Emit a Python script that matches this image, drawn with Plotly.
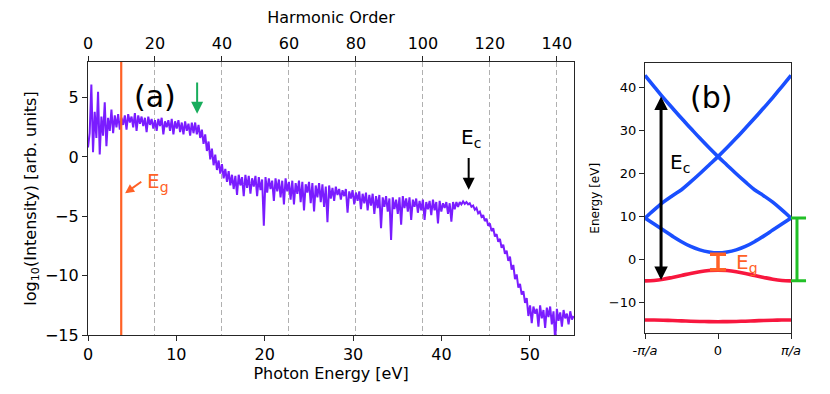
import plotly.graph_objects as go

# ---------------- data ----------------
HARMONIC_EV = 0.379          # photon energy of one harmonic order (eV)
EG_EV = 3.76                 # band gap marker (eV)

# log10 intensity at integer harmonic orders H = 0..145
PEAKS = [
    0.8,
    6.1, 3.8, 5.5, 3.4, 4.6, 3.3, 4.0, 3.5, 3.6, 3.3,
    3.5, 3.6, 3.4, 3.7, 3.5, 3.4, 3.3, 3.4, 3.2, 3.1,
    3.2, 3.3, 3.0, 3.1, 3.2, 3.0, 3.1, 2.9, 3.0, 2.8,
    2.9, 2.9, 2.7, 2.3, 1.9, 1.3, 0.7, 0.2, -0.3, -0.6,
    -1.0, -1.2, -1.5, -1.6, -1.5, -1.7, -1.5, -1.6, -1.8, -1.6,
    -1.7, -1.9, -1.7, -1.8, -2.0, -1.8, -1.9, -2.0, -1.8, -2.1,
    -2.0, -2.2, -2.0, -2.1, -2.3, -2.1, -2.2, -2.4, -2.2, -2.3,
    -2.5, -2.4, -2.6, -2.5, -2.7, -2.8, -2.7, -2.9, -2.8, -3.0,
    -2.9, -3.1, -3.0, -3.2, -3.1, -3.3, -3.2, -3.4, -3.3, -3.5,
    -3.4, -3.6, -3.4, -3.3, -3.5, -3.4, -3.6, -3.5, -3.7, -3.6,
    -3.8, -3.7, -3.6, -3.8, -3.7, -3.9, -3.8, -3.9, -3.8, -3.8,
    -3.8, -3.75, -3.8, -3.9, -4.1, -4.3, -4.6, -4.9, -5.2, -5.6,
    -6.0, -6.5, -6.9, -7.4, -7.9, -8.4, -9.1, -9.9, -10.7, -11.3,
    -11.9, -12.5, -12.6, -12.8, -12.5, -12.9, -12.7, -12.6, -13.0, -12.8,
    -13.1, -12.9, -13.2, -13.0, -13.4,
]
# log10 intensity between harmonics, H = 0.5..144.5
DIPS = [
    2.0, 0.4, 1.6, 0.2, 1.8, 0.9, 2.2, 2.0, 2.5, 2.3,
    2.7, 2.3, 2.9, 2.5, 2.2, 2.8, 2.6, 2.1, 2.7, 2.4,
    2.2, 2.6, 1.9, 2.5, 2.2, 1.9, 2.4, 2.1, 1.9, 2.2,
    1.8, 2.0, 1.9, 1.6, 1.1, 0.5, -0.2, -0.7, -1.1, -1.4,
    -1.8, -2.1, -2.4, -2.7, -3.2, -2.4, -3.3, -2.6, -3.1, -2.5,
    -3.3, -2.8, -5.8, -3.0, -2.7, -3.7, -2.9, -3.4, -4.0, -2.9,
    -3.6, -4.0, -3.1, -3.8, -4.5, -3.0, -3.9, -4.6, -3.4, -3.8,
    -4.2, -5.5, -3.5, -3.7, -3.2, -3.6, -3.3, -4.7, -3.5, -4.0,
    -3.7, -4.4, -3.9, -4.5, -4.1, -4.8, -4.3, -6.0, -4.2, -4.6,
    -7.0, -4.4, -4.8, -5.7, -4.3, -4.6, -5.3, -4.2, -4.7, -4.5,
    -5.3, -4.4, -4.9, -4.5, -5.6, -4.6, -4.3, -4.8, -5.45, -4.4,
    -4.2, -4.0, -3.95, -4.0, -4.2, -4.45, -4.75, -5.05, -5.4, -5.8,
    -6.25, -6.7, -7.15, -7.65, -8.15, -8.75, -9.5, -10.3, -11.0, -11.6,
    -12.3, -13.4, -14.0, -13.2, -14.3, -13.6, -14.4, -13.5, -14.1, -15.5,
    -13.8, -14.3, -13.6, -14.1, -13.7,
]

# band structure, k in units of pi/a
K = [-1, -0.875, -0.75, -0.625, -0.5, -0.375, -0.25, -0.125, 0,
     0.125, 0.25, 0.375, 0.5, 0.625, 0.75, 0.875, 1]
BAND1 = [-14.1, -14.12, -14.16, -14.22, -14.3, -14.38, -14.44, -14.48, -14.5,
         -14.48, -14.44, -14.38, -14.3, -14.22, -14.16, -14.12, -14.1]
BAND2 = [-5.0, -4.9, -4.62, -4.2, -3.75, -3.27, -2.87, -2.6, -2.5,
         -2.6, -2.87, -3.27, -3.75, -4.2, -4.62, -4.9, -5.0]
BAND3 = [9.6, 8.2, 6.8, 5.4, 4.1, 3.0, 2.2, 1.7, 1.5,
         1.7, 2.2, 3.0, 4.1, 5.4, 6.8, 8.2, 9.6]
BAND4 = [9.6, 11.5, 13.3, 14.8, 16.2, 18.0, 19.9, 21.9, 23.9,
         26.0, 28.2, 30.5, 32.8, 35.2, 37.6, 40.2, 42.8]
BAND5 = BAND4[::-1]

X_TICKS_B = [-1, 0, 1]
X_TICKTEXT_B = ["-<i>π/a</i>", "0", "<i>π/a</i>"]

# ---------------- build spectrum ----------------
spec_h, spec_v = [], []
for i, p in enumerate(PEAKS):
    spec_h.append(i)
    spec_v.append(p)
    if i < len(DIPS):
        spec_h.append(i + 0.5)
        spec_v.append(DIPS[i])
spec_e = [h * HARMONIC_EV for h in spec_h]

PURPLE = "#7a1cff"
ORANGE = "#ff6126"
GREEN_A = "#18ad5c"
GREEN_B = "#22c027"
BLUE = "#1a4fff"
RED = "#f8173e"
FONT = "DejaVu Sans"
AX = "#262626"

fig = go.Figure()
fig.add_trace(go.Scatter(x=spec_e, y=spec_v, mode="lines",
                         line=dict(color=PURPLE, width=2), xaxis="x", yaxis="y",
                         showlegend=False))
fig.add_trace(go.Scatter(x=[EG_EV, EG_EV], y=[-15, 8], mode="lines",
                         line=dict(color=ORANGE, width=2.2), xaxis="x", yaxis="y",
                         showlegend=False))

for band, col in [(BAND1, RED), (BAND2, RED), (BAND3, BLUE), (BAND4, BLUE), (BAND5, BLUE)]:
    fig.add_trace(go.Scatter(x=K, y=band, mode="lines", line=dict(color=col, width=3.6, shape="spline"),
                             xaxis="x2", yaxis="y2", showlegend=False))

# invisible trace so xaxis3 is rendered
fig.add_trace(go.Scatter(x=[0], y=[0], xaxis="x3", yaxis="y", mode="markers",
                         marker=dict(opacity=0), showlegend=False, hoverinfo="skip"))

W, H = 830, 394
OFF = 8  # page body margin
def dx(a, b):
    return [(a - OFF) / W, (b - OFF) / W]
def dy(top, bottom):
    return [(H - (bottom - OFF)) / H, (H - (top - OFF)) / H]

dom_a_x = dx(88, 574)
dom_a_y = dy(62, 335)
dom_b_x = dx(645, 791)
dom_b_y = dy(63.3, 333.3)

axis_common = dict(showline=True, linecolor=AX, linewidth=1.3, ticks="outside",
                   ticklen=5, tickwidth=1.2, tickcolor=AX, zeroline=False, showgrid=False,
                   automargin=False)

fig.update_layout(
    width=W, height=H, autosize=False,
    margin=dict(l=0, r=0, t=0, b=0, pad=0),
    paper_bgcolor="white", plot_bgcolor="white",
    font=dict(family=FONT, color="black"),
    xaxis=dict(domain=dom_a_x, anchor="y", range=[0, 55], tickvals=[0, 10, 20, 30, 40, 50],
               tickfont=dict(size=16),
               title=dict(text="Photon Energy [eV]", font=dict(size=16), standoff=4),
               **axis_common),
    xaxis3=dict(overlaying="x", side="top", anchor="y", range=[0, 55 / HARMONIC_EV],
                tickvals=[0, 20, 40, 60, 80, 100, 120, 140], tickfont=dict(size=16),
                title=dict(text="Harmonic Order", font=dict(size=16), standoff=6),
                **{**axis_common, "showgrid": True}, gridcolor="#b0b0b0", griddash="5px,3px",
                gridwidth=1.3),
    yaxis=dict(domain=dom_a_y, anchor="x", range=[-15, 8], tickvals=[-15, -10, -5, 0, 5],
               tickfont=dict(size=16), mirror=True,
               title=dict(text="log<sub>10</sub>(Intensity) [arb. units]", font=dict(size=16),
                          standoff=4),
               **axis_common),
    xaxis2=dict(domain=dom_b_x, anchor="y2", range=[-1, 1], tickvals=X_TICKS_B,
                ticktext=X_TICKTEXT_B, tickfont=dict(size=13), mirror=True, **axis_common),
    yaxis2=dict(domain=dom_b_y, anchor="x2", range=[-17.2, 45.6],
                tickvals=[-10, 0, 10, 20, 30, 40], tickfont=dict(size=13), mirror=True,
                title=dict(text="Energy [eV]", font=dict(size=12), standoff=6),
                **axis_common),
)

ann = []
def txt(x, y, t, xr, yr, size, color="black"):
    ann.append(dict(x=x, y=y, xref=xr, yref=yr, text=t, showarrow=False,
                    font=dict(size=size, color=color, family=FONT)))

def arrow(x, y, ax, ay, xr, yr, color, width, size, both=False):
    ann.append(dict(x=x, y=y, ax=ax, ay=ay, xref=xr, yref=yr, axref=xr, ayref=yr,
                    text="", showarrow=True, arrowhead=2, startarrowhead=2,
                    arrowsize=size, startarrowsize=size, arrowwidth=width,
                    arrowcolor=color, arrowside="end+start" if both else "end",
                    standoff=0, startstandoff=0))

txt(7.6, 5.1, "(a)", "x", "y", 30)
txt(7.9, -2.1, "E<sub>g</sub>", "x", "y", 20, ORANGE)
arrow(4.2, -3.05, 6.2, -2.0, "x", "y", ORANGE, 2, 0.9)
arrow(12.35, 3.65, 12.35, 6.4, "x", "y", GREEN_A, 2, 1.2)
arrow(43.08, -2.77, 43.08, 0.03, "x", "y", "black", 2, 1.2)
txt(43.3, 1.6, "E<sub>c</sub>", "x", "y", 20)

txt(-0.1, 37.6, "(b)", "x2", "y2", 30)
txt(-0.52, 22.3, "E<sub>c</sub>", "x2", "y2", 20)
txt(0.4, -0.9, "E<sub>g</sub>", "x2", "y2", 20, ORANGE)
arrow(-0.78, -4.8, -0.78, 38.2, "x2", "y2", "black", 3, 0.9, both=True)
fig.update_layout(annotations=ann)

shapes = []
# orange gap bar
shapes.append(dict(type="line", xref="x2", yref="y2", x0=0, x1=0, y0=1.2, y1=-2.4,
                   line=dict(color=ORANGE, width=3.5)))
for yy in (1.2, -2.4):
    shapes.append(dict(type="line", xref="x2", yref="y2", x0=-0.11, x1=0.11, y0=yy, y1=yy,
                       line=dict(color=ORANGE, width=3.5)))
# green bar outside panel (b)
shapes.append(dict(type="line", xref="x2 domain", yref="y2", x0=1.041, x1=1.041, y0=9.6, y1=-5.0,
                   line=dict(color=GREEN_B, width=3)))
for yy in (9.6, -5.0):
    shapes.append(dict(type="line", xref="x2 domain", yref="y2", x0=0.999, x1=1.103, y0=yy, y1=yy,
                       line=dict(color=GREEN_B, width=3)))
fig.update_layout(shapes=shapes)

fig.write_html("out.html")
